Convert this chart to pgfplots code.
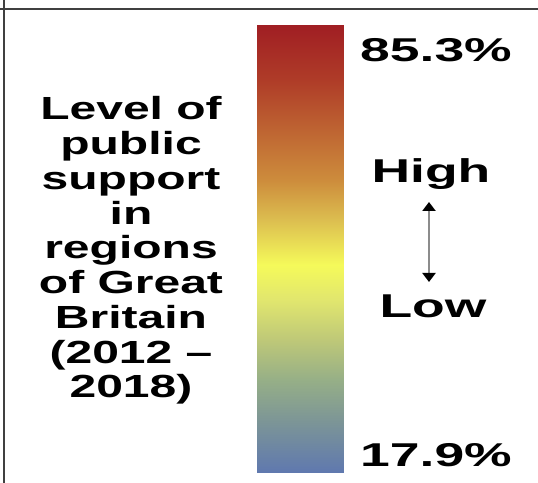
\documentclass[border=0pt]{standalone}
\usepackage{fontspec}
\setmainfont{Liberation Sans}[FakeStretch=1.5]
\newfontfamily\widefont{Liberation Sans}[FakeStretch=1.62]
\usepackage{pgfplots}
\pgfplotsset{compat=1.18}
\usetikzlibrary{arrows.meta}

% colour scale, bottom (0) to top (1000)
\pgfplotsset{colormap={support}{
  rgb255(0)=(95,120,175)
  rgb255(118)=(125,150,150)
  rgb255(208)=(150,175,135)
  rgb255(297)=(190,200,120)
  rgb255(386)=(225,230,110)
  rgb255(464)=(245,250,90)
  rgb255(565)=(220,190,80)
  rgb255(654)=(205,140,60)
  rgb255(766)=(190,100,50)
  rgb255(877)=(175,60,40)
  rgb255(1000)=(160,30,35)
}}

\pgfplotstableread{
x y z
0 17.9 0
1 17.9 0
0 25.85 0
1 25.85 0
0 31.92 0
1 31.92 0
0 37.92 0
1 37.92 0
0 43.92 0
1 43.92 0
0 49.17 0
1 49.17 0
0 55.98 0
1 55.98 0
0 61.98 0
1 61.98 0
0 69.53 0
1 69.53 0
0 77.01 0
1 77.01 0
0 85.3 0
1 85.3 0
}\bartable

\begin{document}
\begin{tikzpicture}[x=1bp,y=1bp]
\useasboundingbox (0,0) rectangle (538,483);
\draw[line width=2.5bp, black!75] (0,474) -- (538,474);
\draw[line width=2.5bp, black!75] (4,0) -- (4,483);

\begin{axis}[at={(257bp,10bp)}, anchor=south west,
  width=87bp, height=448bp, scale only axis, hide axis,
  xmin=0, xmax=1, ymin=17.9, ymax=85.3,
  view={0}{90}, colormap name=support]
\addplot3[surf, shader=interp, mesh/cols=2, point meta=\thisrow{y}] table {\bartable};
\end{axis}

\begin{scope}[every node/.style={inner sep=0pt, font=\widefont\fontsize{33bp}{36bp}\selectfont\bfseries}]
\node[anchor=base west] at (360,421) {85.3\%};
\node[anchor=base west] at (360,16) {17.9\%};
\node[anchor=base] at (431,300) {High};
\node[anchor=base] at (433,165) {Low};
\end{scope}
\draw[{Triangle[width=13bp,length=9bp,color=black]}-{Triangle[width=13bp,length=9bp,color=black]},
  line width=2.5bp, black!45] (429,281) -- (429,201);

\foreach \t [count=\i] in {{Level of}, {public}, {support}, {in}, {regions}, {of Great}, {Britain}, {(2012 –}, {2018)}}
  \node[inner sep=0pt, anchor=base, font=\fontsize{32bp}{36bp}\selectfont\bfseries]
    at (131, 363-34.75*\i+34.75) {\t};
\end{tikzpicture}
\end{document}
